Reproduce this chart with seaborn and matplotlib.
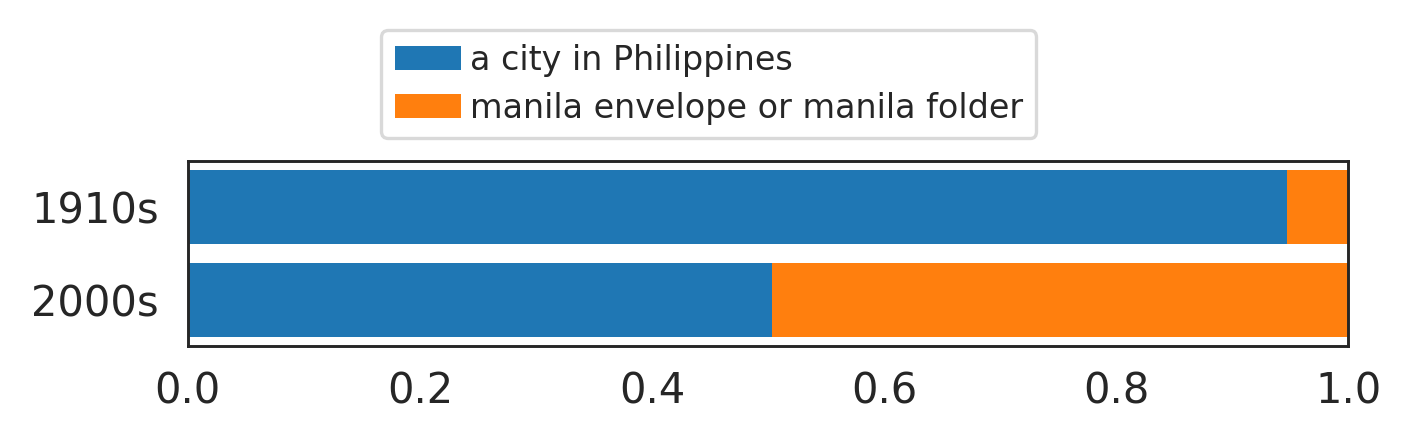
import seaborn as sns
import pandas as pd
import matplotlib
matplotlib.use("Agg")
import matplotlib.pyplot as plt

decades = ["1910s", "2000s"]
senses = ["a city in Philippines", "manila envelope or manila folder"]
city_share = [0.947, 0.503]
folder_share = [0.053, 0.497]

colors = ["#1f77b4", "#ff7f0e"]

df = pd.DataFrame({"decade": decades, "city": city_share, "folder": folder_share})
df["total"] = df["city"] + df["folder"]

sns.set_theme(style="white")
plt.rcParams["font.family"] = ["DejaVu Sans"]

fig = plt.figure(figsize=(1412 / 300, 447 / 300), dpi=300)
ax = fig.add_axes([0.133, 0.226, 0.822, 0.414])

# stacked: draw total in orange, then the first sense on top
sns.barplot(data=df, x="total", y="decade", color=colors[1], orient="h",
            width=0.8, saturation=1, linewidth=0, ax=ax, label=senses[1])
sns.barplot(data=df, x="city", y="decade", color=colors[0], orient="h",
            width=0.8, saturation=1, linewidth=0, ax=ax, label=senses[0])

ax.set_xlim(0, 1)
ax.set_xlabel("")
ax.set_ylabel("")
ax.tick_params(axis="both", labelsize=10, length=0)
ax.tick_params(axis="y", pad=7)
ax.tick_params(axis="x", pad=6)
for s in ax.spines.values():
    s.set_edgecolor("#262626")
    s.set_linewidth(0.7)

handles, labels = ax.get_legend_handles_labels()
ax.legend_ = None
order = [labels.index(s) for s in senses]
leg = fig.legend([handles[i] for i in order], [labels[i] for i in order],
                 loc="lower center", bbox_to_anchor=(0.502, 0.691), fontsize=8.0,
                 frameon=True, edgecolor="#d0d0d0", handlelength=2.0,
                 handletextpad=0.25, labelspacing=0.45, borderpad=0.4,
                 borderaxespad=0)
leg.get_frame().set_linewidth(0.8)

fig.savefig("out.png", dpi=300)
